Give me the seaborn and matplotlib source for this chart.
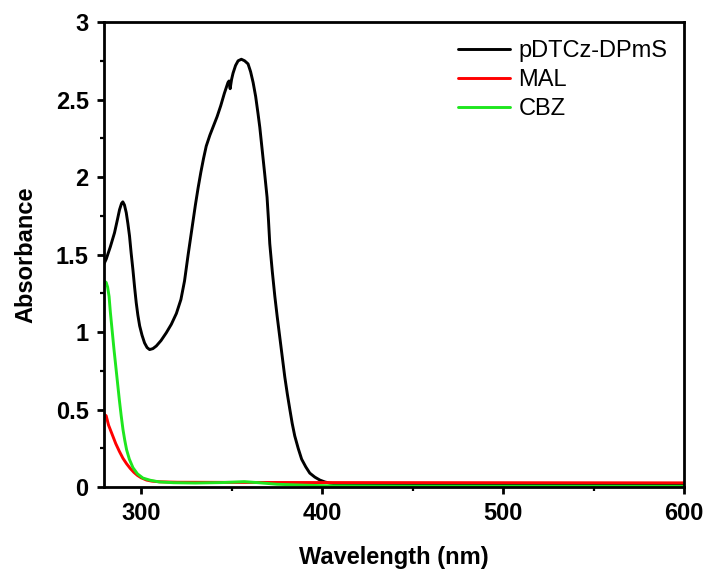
import pandas as pd
import seaborn as sns
import matplotlib.pyplot as plt
from matplotlib.ticker import MultipleLocator

# --- data ---
wl_pdtcz = [279.5, 280.7, 283, 285.3, 287, 288.1, 289.2, 289.9, 290.8, 291.8, 292.7, 293.6,
            294.5, 295.5, 296.4, 297.3, 298.2, 299.2, 300.5, 301.9, 303.3, 304.7, 306.5,
            308.4, 311, 313.9, 316.7, 319.5, 322, 324, 326, 328, 330, 331.5, 333, 334.5,
            336, 338, 340, 342, 344, 346, 348, 348.6, 349.2, 350, 350.8, 352.2, 353.6,
            355.4, 357.2, 359.1, 360.5, 361.9, 363.3, 364.6, 365.6, 366.5, 367.4, 368.3,
            369.6, 370.4, 371.1, 372.5, 373.9, 375.2, 376.6, 378, 379.4, 380.8, 382.2,
            383.5, 384.9, 386.8, 388.7, 391, 393.2, 396, 398.8, 401.5, 404.3, 410, 450,
            500, 600]
abs_pdtcz = [1.44, 1.47, 1.55, 1.64, 1.73, 1.79, 1.83, 1.84, 1.82, 1.77, 1.70, 1.62,
             1.51, 1.40, 1.29, 1.19, 1.11, 1.04, 0.98, 0.93, 0.90, 0.887, 0.893,
             0.91, 0.945, 0.995, 1.05, 1.12, 1.21, 1.33, 1.50, 1.66, 1.82, 1.93, 2.03, 2.12,
             2.20, 2.27, 2.33, 2.39, 2.46, 2.54, 2.61, 2.62, 2.57, 2.63, 2.67, 2.72, 2.75,
             2.76, 2.75, 2.73, 2.68, 2.61, 2.52, 2.41, 2.32, 2.22, 2.12, 2.02,
             1.87, 1.72, 1.57, 1.39, 1.23, 1.10, 0.97, 0.84, 0.71, 0.60, 0.50,
             0.41, 0.33, 0.25, 0.18, 0.13, 0.09, 0.064, 0.045, 0.033, 0.025, 0.018, 0.014,
             0.013, 0.012]

wl_mal = [279.5, 280.7, 282, 284, 286, 288, 290, 292, 294, 296, 298, 300, 303, 306, 310,
          320, 350, 400, 500, 600]
abs_mal = [0.47, 0.46, 0.40, 0.34, 0.28, 0.23, 0.185, 0.15, 0.12, 0.095, 0.075, 0.06,
           0.045, 0.038, 0.034, 0.031, 0.030, 0.029, 0.028, 0.027]

wl_cbz = [279.5, 280.7, 281.5, 282.3, 283, 284, 285, 286, 287, 288, 289, 290, 291, 292,
          293.5, 295.5, 298, 301, 305, 310, 318, 330, 345, 357, 365, 375, 390, 404, 450, 600]
abs_cbz = [1.33, 1.32, 1.29, 1.23, 1.13, 1.01, 0.89, 0.78, 0.67, 0.56, 0.46, 0.37, 0.30, 0.24,
           0.18, 0.125, 0.085, 0.058, 0.044, 0.033, 0.028, 0.026, 0.029, 0.035, 0.028, 0.018,
           0.012, 0.008, 0.006, 0.005]

names = ["pDTCz-DPmS", "MAL", "CBZ"]
colors = ["#000000", "#ff0000", "#1ee61e"]

dt = pd.concat([
    pd.DataFrame({"wl": wl_pdtcz, "abs": abs_pdtcz, "sample": names[0]}),
    pd.DataFrame({"wl": wl_mal, "abs": abs_mal, "sample": names[1]}),
    pd.DataFrame({"wl": wl_cbz, "abs": abs_cbz, "sample": names[2]}),
]).reset_index(drop=True)

# ---
sns.set_style("ticks")
plt.rcParams["font.family"] = ["Liberation Sans", "DejaVu Sans"]
plt.rcParams.update({
    "axes.edgecolor": "black",
    "axes.labelcolor": "black",
    "text.color": "black",
    "xtick.color": "black",
    "ytick.color": "black",
})

fig = plt.figure(figsize=(7.07, 5.73), dpi=100)
ax = fig.add_axes([0.1471, 0.150, 0.8204, 0.8115])

sns.lineplot(data=dt, x="wl", y="abs", hue="sample", hue_order=names,
             palette=colors, sort=False, linewidth=2.1, ax=ax)

ax.set_xlim(279.5, 600)
ax.set_ylim(0, 3)
ax.xaxis.set_major_locator(MultipleLocator(100))
ax.xaxis.set_minor_locator(MultipleLocator(50))
ax.yaxis.set_major_locator(MultipleLocator(0.5))
ax.yaxis.set_minor_locator(MultipleLocator(0.25))
ax.yaxis.set_major_formatter(plt.FuncFormatter(lambda v, p: f"{v:g}"))

for s in ax.spines.values():
    s.set_linewidth(2.0)
    s.set_visible(True)
ax.tick_params(which="major", direction="out", length=5, width=2.0,
               labelsize=17, pad=6)
ax.tick_params(which="minor", direction="out", length=3, width=1.6)
for lab in ax.get_xticklabels() + ax.get_yticklabels():
    lab.set_fontweight("bold")

ax.set_xlabel("Wavelength (nm)", fontsize=17, fontweight="bold", labelpad=15)
ax.set_ylabel("Absorbance", fontsize=17, fontweight="bold", labelpad=13)

leg = ax.legend(loc="upper right", bbox_to_anchor=(1.0, 0.997), frameon=False,
                fontsize=17, handlelength=2.2, handletextpad=0.35, labelspacing=0.3,
                borderaxespad=0.3)
for line in leg.get_lines():
    line.set_linewidth(2.1)

plt.savefig("out.png", dpi=100)
